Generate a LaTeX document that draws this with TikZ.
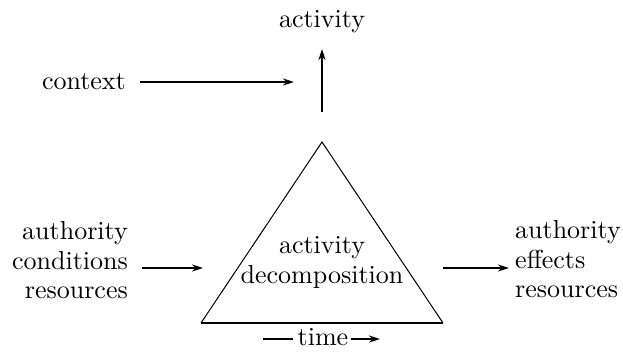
\documentclass[tikz,border=0pt]{standalone}
\usepackage{fontspec}
\setmainfont{lmroman10-regular}[Extension=.otf]
\usetikzlibrary{arrows.meta}
\begin{document}
\begin{tikzpicture}[x=1pt,y=-1pt,
  lbl/.style={inner sep=0pt,font=\fontsize{26}{30}\selectfont},
  thick arrow/.style={line width=2.7pt,-{Stealth[length=11pt,width=7pt]}},
  thin line/.style={line width=1pt}]
\useasboundingbox (0,0) rectangle (623,351);
% triangle
\coordinate (apex) at (322,142);
\coordinate (bl) at (201,323);
\coordinate (br) at (443,323);
\draw[thin line,line join=miter] (bl) -- (apex) -- (br);
\draw[line width=2.7pt] (bl) -- (br);
% texts
\node[lbl,anchor=base] (act) at (322,27) {activity};
\node[lbl,anchor=base east] (ctx) at (126,89) {context};
\node[lbl,anchor=base] (dec1) at (322,253) {activity};
\node[lbl,anchor=base] (dec2) at (322,283) {decomposition};
\node[lbl,anchor=base east] (in1) at (128,239) {authority};
\node[lbl,anchor=base east] (in2) at (128,269) {conditions};
\node[lbl,anchor=base east] (in3) at (128,298) {resources};
\node[lbl,anchor=base west] (out1) at (515,238) {authority};
\node[lbl,anchor=base west] (out2) at (515,268) {effects};
\node[lbl,anchor=base west] (out3) at (515,297) {resources};
\node[lbl,anchor=base] (time) at (323,345) {time};
% connectors
\coordinate (ctxend) at (294,82);
\coordinate (actbot) at (322,112);
\coordinate (acttip) at (322,49);
\draw[thick arrow,shorten <=14pt] (ctx.east|-ctxend) -- (ctxend);
\draw[thick arrow] (actbot) -- (acttip);
\coordinate (inend) at (203,268);
\draw[thick arrow,shorten <=14pt] (in2.east|-inend) -- (inend);
\coordinate (outstart) at (443,268);
\coordinate (outend) at (509,268);
\draw[thick arrow] (outstart) -- (outend);
\coordinate (tl) at (263,339);
\coordinate (tr) at (380,339);
\draw[line width=2.7pt,shorten >=5pt] (tl) -- (time.west|-tl);
\draw[thick arrow,shorten <=3pt] (time.east|-tr) -- (tr);
\end{tikzpicture}
\end{document}
